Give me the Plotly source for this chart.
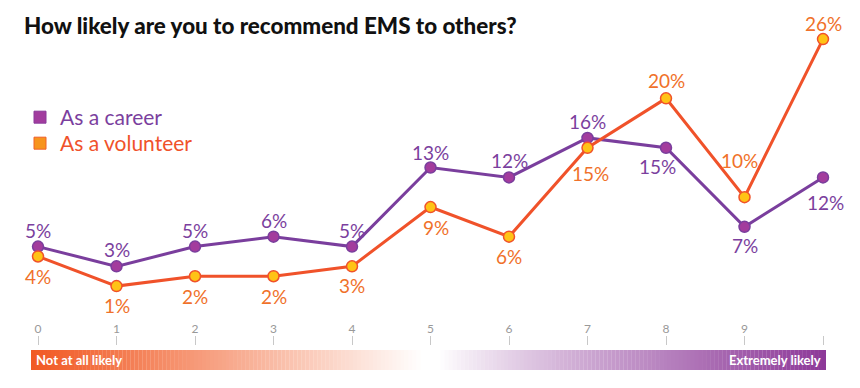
import plotly.graph_objects as go

scores = [0, 1, 2, 3, 4, 5, 6, 7, 8, 9, 10]
career = [5, 3, 5, 6, 5, 13, 12, 16, 15, 7, 12]
volunteer = [4, 1, 2, 2, 3, 9, 6, 15, 20, 10, 26]
title = "How likely are you to recommend EMS to others?"
low_label = "Not at all likely"
high_label = "Extremely likely"

# label offsets in pixels (styling only): positive dy = below the point
career_dy = [-16, -17, -16, -16, -16, -15, -17, -16, 19, 19, 25]
career_dx = [0, 0, 0, 0, 0, 0, 0, 0, -9, 0, 2]
volunteer_dy = [20, 19, 20, 20, 19, 20, 20, 26, -18, -37, -16]
volunteer_dx = [0, 0, 0, 0, 0, 5, 0, 3, 0, -5, 0]

PURPLE_LINE = "#7a3e9d"
PURPLE_DOT = "#a33c9d"
PURPLE_TXT = "#7b3f9e"
ORANGE_LINE = "#f0522a"
YELLOW_DOT = "#ffc315"
ORANGE_TXT = "#f0712a"
FONT = "Lato, 'Open Sans', sans-serif"

fig = go.Figure()
fig.add_trace(go.Scatter(
    x=scores, y=career, mode="lines+markers",
    line=dict(color=PURPLE_LINE, width=3),
    marker=dict(size=11, color=PURPLE_DOT, line=dict(color=PURPLE_LINE, width=1.5)),
    showlegend=False, hoverinfo="skip", cliponaxis=False,
))
fig.add_trace(go.Scatter(
    x=scores, y=volunteer, mode="lines+markers",
    line=dict(color=ORANGE_LINE, width=3),
    marker=dict(size=11, color=YELLOW_DOT, line=dict(color=ORANGE_LINE, width=1.5)),
    showlegend=False, hoverinfo="skip", cliponaxis=False,
))
# legend entries (one legend box each, so the rows can be placed exactly)
fig.add_trace(go.Scatter(
    x=[None], y=[None], mode="markers", legend="legend",
    marker=dict(symbol="square", size=12, color="#a23c9e", line=dict(color="#8a3a9a", width=1)),
    name=f"<span style='color:{PURPLE_TXT}'>As a career</span>",
))
fig.add_trace(go.Scatter(
    x=[None], y=[None], mode="markers", legend="legend2",
    marker=dict(symbol="square", size=12, color="#f7941d", line=dict(color="#f0602a", width=1)),
    name=f"<span style='color:{ORANGE_LINE}'>As a volunteer</span>",
))

annotations = []
for s, v, dx, dy in zip(scores, career, career_dx, career_dy):
    annotations.append(dict(x=s, y=v, xref="x", yref="y", text=f"{v}%", showarrow=False,
                            xanchor="center", yanchor="middle", xshift=dx, yshift=-dy,
                            font=dict(color=PURPLE_TXT, size=19, family=FONT)))
for s, v, dx, dy in zip(scores, volunteer, volunteer_dx, volunteer_dy):
    annotations.append(dict(x=s, y=v, xref="x", yref="y", text=f"{v}%", showarrow=False,
                            xanchor="center", yanchor="middle", xshift=dx, yshift=-dy,
                            font=dict(color=ORANGE_TXT, size=19, family=FONT)))

# gradient bar
shapes = []
x0, x1 = -0.089, 10.038
o_end, p_start = 4.90, 5.12
N = 200
def mix(c1, c2, t):
    return "rgb(%d,%d,%d)" % tuple(round(a + (b - a) * t) for a, b in zip(c1, c2))
orange = (241, 90, 36)
white = (255, 255, 255)
purple = (140, 56, 152)
step = (x1 - x0) / N
for i in range(N):
    a = x0 + i * step
    b = a + step * 1.05
    c = a + step / 2
    if c <= o_end:
        t = (c - x0) / (o_end - x0)
        col = mix(orange, white, t ** 1.1)
    elif c < p_start:
        col = "rgb(255,255,255)"
    else:
        t = (c - p_start) / (x1 - p_start)
        col = mix(white, purple, t ** 0.85)
    shapes.append(dict(type="rect", xref="x", yref="paper", x0=a, x1=min(b, x1),
                       y0=-0.0769, y1=-0.0154, fillcolor=col, line=dict(width=0), layer="below"))

annotations += [
    dict(text=f"<b>{low_label}</b>", xref="x", yref="paper", x=-0.05, y=-0.046,
         xanchor="left", yanchor="middle", showarrow=False,
         font=dict(color="white", size=13, family=FONT)),
    dict(text=f"<b>{high_label}</b>", xref="x", yref="paper", x=10.0, y=-0.046,
         xanchor="right", yanchor="middle", showarrow=False,
         font=dict(color="white", size=13, family=FONT)),
]

legend_common = dict(xanchor="left", yanchor="top", font=dict(size=21, family=FONT),
                     bgcolor="rgba(0,0,0,0)", itemclick=False, itemdoubleclick=False)

fig.update_layout(
    width=860, height=388,
    margin=dict(l=22, r=38, t=12, b=51),
    paper_bgcolor="white", plot_bgcolor="white",
    title=dict(text=title, x=0.0186, xanchor="left", y=0.954, yanchor="middle",
               font=dict(size=22.4, color="#111111", family=FONT, weight=900)),
    font=dict(family=FONT),
    showlegend=True,
    legend=dict(x=-0.0125, y=0.763, **legend_common),
    legend2=dict(x=-0.0125, y=0.683, **legend_common),
    xaxis=dict(range=[-0.102, 10.089], tickmode="array", tickvals=scores,
               ticktext=[str(s) for s in scores],
               ticks="inside", ticklen=9, tickcolor="#c8c8c8", tickwidth=1,
               ticklabelposition="inside", tickfont=dict(size=12, color="#999999", family=FONT),
               showgrid=False, zeroline=False, showline=False, fixedrange=True),
    yaxis=dict(range=[-4.96, 27.93], visible=False, showgrid=False, zeroline=False, fixedrange=True),
    shapes=shapes,
    annotations=annotations,
    hovermode=False,
)

fig.write_html("out.html")
